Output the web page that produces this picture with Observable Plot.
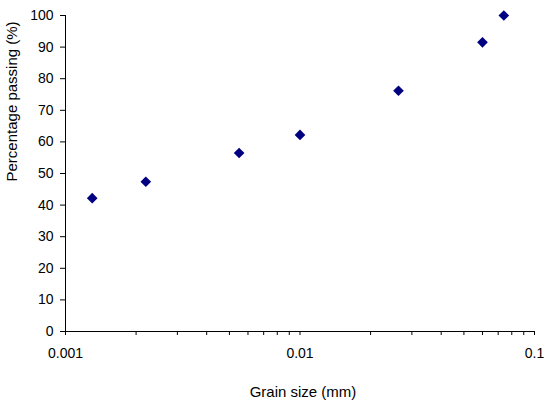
<!DOCTYPE html>
<html>
<head>
<meta charset="utf-8">
<script src="https://cdn.jsdelivr.net/npm/d3@7"></script>
<script src="https://cdn.jsdelivr.net/npm/@observablehq/plot@0.6"></script>
<style>
  html, body { margin: 0; padding: 0; background: #fff; }
</style>
</head>
<body>
<div id="chart"></div>
<script>
// Data
const grainSize = [0.0013, 0.0022, 0.0055, 0.01, 0.0263, 0.06, 0.074];
const passing   = [42.2, 47.4, 56.5, 62.2, 76.2, 91.5, 100];

const xMajorTicks = [0.001, 0.01, 0.1];
const xTickLabels = ["0.001", "0.01", "0.1"];
const yTicks = [0, 10, 20, 30, 40, 50, 60, 70, 80, 90, 100];

const xTitle = "Grain size (mm)";
const yTitle = "Percentage passing (%)";

const points = grainSize.map((g, i) => ({g, p: passing[i]}));
const xAllTicks = d3.scaleLog().domain([0.001, 0.1]).ticks();

const chart = Plot.plot({
  width: 550,
  height: 405,
  marginLeft: 65,
  marginRight: 16,
  marginTop: 15,
  marginBottom: 74,
  style: {fontFamily: "'Liberation Sans', Arial, sans-serif", fontSize: "14px", color: "black", background: "white"},
  x: {type: "log", domain: [0.001, 0.1]},
  y: {domain: [0, 100]},
  marks: [
    Plot.axisY({ticks: yTicks, tickSize: 5, tickPadding: 7, label: null, fontSize: 14, tickFormat: d => String(d)}),
    Plot.axisX(xAllTicks, {tickSize: 4, tickPadding: 13, label: null, fontSize: 14,
      tickFormat: d => {
        const i = xMajorTicks.findIndex(m => Math.abs(m - d) / m < 1e-9);
        return i >= 0 ? xTickLabels[i] : "";
      }}),
    Plot.ruleY([0], {stroke: "black"}),
    Plot.ruleX([0.001], {stroke: "black"}),
    Plot.dot(points, {x: "g", y: "p", symbol: "diamond2", r: 4.8, fill: "#000080", stroke: "none"}),
    Plot.text([xTitle], {frameAnchor: "bottom", lineAnchor: "bottom", dx: 3, dy: 65, fontSize: 15, fill: "black"}),
    Plot.text([yTitle], {frameAnchor: "left", lineAnchor: "bottom", rotate: -90, dx: -49, dy: 8, fontSize: 15, fill: "black"})
  ]
});
document.getElementById("chart").appendChild(chart);
</script>
</body>
</html>
